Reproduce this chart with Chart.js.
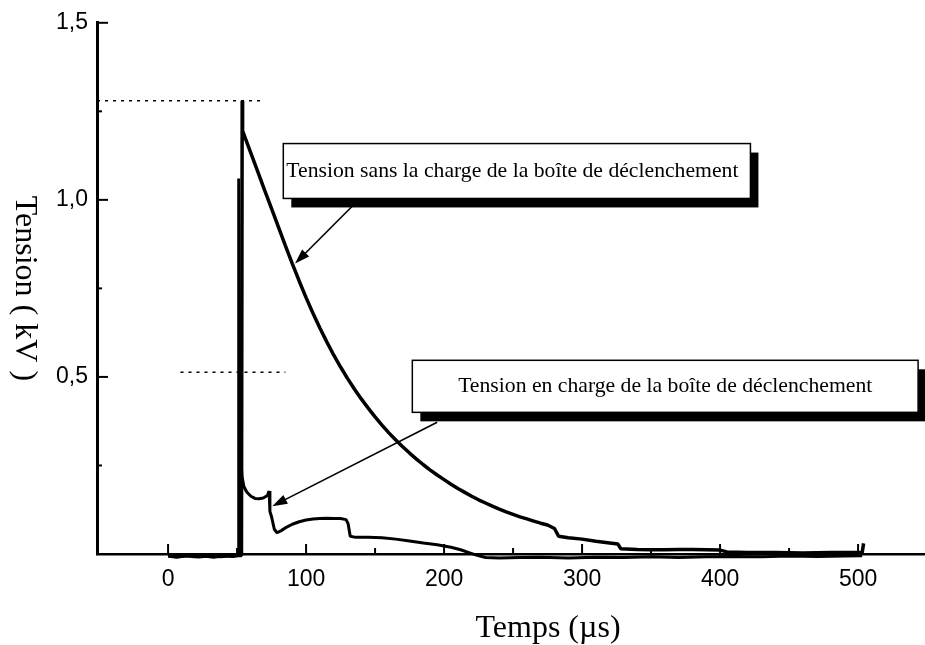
<!DOCTYPE html>
<html>
<head>
<meta charset="utf-8">
<script src="https://cdn.jsdelivr.net/npm/chart.js@4"></script>
<style>
  html, body { margin: 0; padding: 0; background: #fff; }
  #tensionChart { display: block; }
</style>
</head>
<body>
<canvas id="tensionChart" width="925" height="645"></canvas>
<script>
const tempsSansCharge = [0, 8, 15, 22, 30, 38, 46, 53.2, 53.7, 54, 60, 65, 70, 75, 80, 85, 90, 95, 100,
  105, 110, 115, 120, 125, 130, 135, 140, 145, 150, 155, 160, 165, 170, 175, 180, 185, 190, 195, 200,
  205, 210, 215, 220, 225, 230, 235, 240, 245, 250, 255, 260, 265, 270, 275, 280, 283, 290, 300, 310,
  320, 326, 328, 340, 350, 360, 370, 380, 390, 400, 405, 420, 440, 460, 480, 503, 504];
const tensionSansCharge = [-0.005, -0.007, -0.004, -0.008, -0.005, -0.007, -0.004, -0.004, 1.28, 1.195, 1.132, 1.08, 1.027, 0.975, 0.923, 0.871, 0.82, 0.771, 0.724,
  0.68, 0.638, 0.599, 0.562, 0.528, 0.496, 0.466, 0.438, 0.412, 0.387, 0.364, 0.342, 0.322, 0.303, 0.285, 0.268, 0.252, 0.237, 0.223, 0.21,
  0.197, 0.185, 0.174, 0.163, 0.153, 0.144, 0.135, 0.127, 0.119, 0.112, 0.105, 0.099, 0.093, 0.087, 0.082, 0.072, 0.05, 0.046, 0.042, 0.036,
  0.031, 0.028, 0.015, 0.013, 0.012, 0.012, 0.013, 0.013, 0.012, 0.011, 0.006, 0.004, 0.004, 0.003, 0.004, 0.004, 0.03];

const tempsEnCharge = [0, 6, 12, 19, 26, 33, 40, 47, 50.8, 51.2, 51.8, 52.5, 53.5, 55, 57, 60, 63, 66, 69, 72,
  73.2, 73.8, 75, 77, 79, 82, 86, 90, 95, 100, 105, 110, 115, 120, 125, 129, 130.5, 132, 136, 145,
  155, 165, 175, 185, 195, 205, 212, 218, 224, 230, 240, 255, 270, 290, 310, 330, 350, 370, 390, 410,
  430, 450, 470, 490, 503];
const tensionEnCharge = [-0.006, -0.009, -0.005, -0.008, -0.006, -0.009, -0.005, -0.007, -0.004, 1.06, 0.5, 0.3, 0.22, 0.19, 0.175, 0.163, 0.157, 0.156, 0.158, 0.165,
  0.178, 0.12, 0.105, 0.07, 0.06, 0.066, 0.076, 0.084, 0.091, 0.096, 0.099, 0.1, 0.101, 0.1, 0.1, 0.097, 0.085, 0.05, 0.047, 0.047,
  0.046, 0.042, 0.037, 0.031, 0.026, 0.019, 0.012, 0.004, -0.004, -0.01, -0.011, -0.01, -0.009, -0.011, -0.009, -0.01, -0.008, -0.01, -0.008, -0.007,
  -0.008, -0.006, -0.007, -0.006, -0.005];

// niveaux repères en pointillés
const creteTemps = [-51.5, 69];
const creteTension = [1.28, 1.28];
const moitieTemps = [9, 85];
const moitieTension = [0.513, 0.513];

const xTicks = [0, 100, 200, 300, 400, 500];
const xMinorTicks = [50, 150, 250, 350, 450];
const yTicks = [0.5, 1.0, 1.5];
const yMinorTicks = [0.25, 0.75, 1.25];

const toPoints = (xs, ys) => xs.map((x, i) => ({ x: x, y: ys[i] }));

// bulles de légende (coordonnées en unités des axes)
const bulles = [
  { text: 'Tension sans la charge de la boîte de déclenchement', box: [83.5, 1.159, 422, 1.004], align: 'left', arrow: [134, 0.984, 92, 0.82] },
  { text: 'Tension en charge de la boîte de déclenchement', box: [177, 0.547, 543.5, 0.4], align: 'center', arrow: [195, 0.372, 75.5, 0.135] }
];

const decorPlugin = {
  id: 'decor',
  afterDraw(chart) {
    const ctx = chart.ctx;
    const xs = chart.scales.x;
    const ys = chart.scales.y;
    const area = chart.chartArea;
    ctx.save();
    ctx.strokeStyle = '#000';
    ctx.fillStyle = '#000';

    // graduations vers l'intérieur
    ctx.lineWidth = 2;
    const tickY = (v, len) => {
      const p = ys.getPixelForValue(v);
      ctx.beginPath(); ctx.moveTo(area.left, p); ctx.lineTo(area.left + len, p); ctx.stroke();
    };
    const tickX = (v, len) => {
      const p = xs.getPixelForValue(v);
      ctx.beginPath(); ctx.moveTo(p, area.bottom); ctx.lineTo(p, area.bottom - len); ctx.stroke();
    };
    yTicks.forEach(v => tickY(v, 11));
    yMinorTicks.forEach(v => tickY(v, 5));
    xTicks.forEach(v => tickX(v, 10));
    xMinorTicks.forEach(v => tickX(v, 6));

    // bulles + flèches
    bulles.forEach(b => {
      const x0 = xs.getPixelForValue(b.box[0]);
      const y0 = ys.getPixelForValue(b.box[1]);
      const x1 = xs.getPixelForValue(b.box[2]);
      const y1 = ys.getPixelForValue(b.box[3]);
      ctx.fillStyle = '#000';
      ctx.fillRect(x0 + 8, y0 + 9, x1 - x0, y1 - y0);
      ctx.fillStyle = '#fff';
      ctx.fillRect(x0, y0, x1 - x0, y1 - y0);
      ctx.lineWidth = 1.5;
      ctx.strokeRect(x0, y0, x1 - x0, y1 - y0);
      ctx.fillStyle = '#000';
      ctx.font = '21.7px "Liberation Serif", "Times New Roman", serif';
      ctx.textBaseline = 'middle';
      if (b.align === 'left') {
        ctx.textAlign = 'left';
        ctx.fillText(b.text, x0 + 3, (y0 + y1) / 2);
      } else {
        ctx.textAlign = 'center';
        ctx.fillText(b.text, (x0 + x1) / 2, (y0 + y1) / 2);
      }

      const ax0 = xs.getPixelForValue(b.arrow[0]);
      const ay0 = ys.getPixelForValue(b.arrow[1]);
      const ax1 = xs.getPixelForValue(b.arrow[2]);
      const ay1 = ys.getPixelForValue(b.arrow[3]);
      const ang = Math.atan2(ay1 - ay0, ax1 - ax0);
      ctx.lineWidth = 1.6;
      ctx.beginPath(); ctx.moveTo(ax0, ay0); ctx.lineTo(ax1 - 10 * Math.cos(ang), ay1 - 10 * Math.sin(ang)); ctx.stroke();
      ctx.beginPath();
      ctx.moveTo(ax1, ay1);
      ctx.lineTo(ax1 - 15 * Math.cos(ang) + 5 * Math.sin(ang), ay1 - 15 * Math.sin(ang) - 5 * Math.cos(ang));
      ctx.lineTo(ax1 - 15 * Math.cos(ang) - 5 * Math.sin(ang), ay1 - 15 * Math.sin(ang) + 5 * Math.cos(ang));
      ctx.closePath();
      ctx.fill();
    });

    // titres des axes
    ctx.fillStyle = '#000';
    ctx.font = '32px "Liberation Serif", "Times New Roman", serif';
    ctx.textAlign = 'center';
    ctx.textBaseline = 'alphabetic';
    ctx.fillText('Temps (µs)', 548, 637);
    ctx.translate(16, (area.top + area.bottom) / 2);
    ctx.rotate(Math.PI / 2);
    ctx.fillText('Tension ( kV )', 0, 0);
    ctx.restore();
  }
};

const traceClip = { left: 0, top: 0, right: 0, bottom: 10 };

const tensionChart = new Chart(document.getElementById('tensionChart'), {
  type: 'line',
  data: {
    datasets: [{
      label: 'Tension sans la charge',
      data: toPoints(tempsSansCharge, tensionSansCharge),
      borderColor: '#000',
      borderWidth: 3.5,
      borderJoinStyle: 'bevel',
      pointRadius: 0,
      tension: 0,
      clip: traceClip,
    }, {
      label: 'Tension en charge',
      data: toPoints(tempsEnCharge, tensionEnCharge),
      borderColor: '#000',
      borderWidth: 3,
      borderJoinStyle: 'bevel',
      pointRadius: 0,
      tension: 0,
      clip: traceClip,
    }, {
      label: 'crête',
      data: toPoints(creteTemps, creteTension),
      borderColor: '#000',
      borderWidth: 1.5,
      borderDash: [3, 5],
      pointRadius: 0,
    }, {
      label: 'moitié',
      data: toPoints(moitieTemps, moitieTension),
      borderColor: '#000',
      borderWidth: 1.5,
      borderDash: [3, 5],
      pointRadius: 0,
    }]
  },
  options: {
    responsive: false,
    animation: false,
    layout: {
      padding: { top: 22, right: 0, left: 0, bottom: 0 }
    },
    scales: {
      x: {
        type: 'linear',
        min: -51.5,
        max: 548.5,
        afterFit: (scale) => { scale.height = 91; },
        afterBuildTicks: (scale) => { scale.ticks = xTicks.map(v => ({ value: v })); },
        grid: { display: false, drawTicks: false },
        border: { display: true, color: '#000', width: 2.5 },
        ticks: {
          padding: 12,
          color: '#000',
          maxRotation: 0,
          font: { family: '"Liberation Sans", Arial, sans-serif', size: 23 },
          callback: (value) => String(value),
        }
      },
      y: {
        type: 'linear',
        min: 0,
        max: 1.5,
        afterFit: (scale) => { scale.width = 97; },
        afterBuildTicks: (scale) => { scale.ticks = yTicks.map(v => ({ value: v })); },
        grid: { display: false, drawTicks: false },
        border: { display: true, color: '#000', width: 3 },
        ticks: {
          padding: 9,
          color: '#000',
          font: { family: '"Liberation Sans", Arial, sans-serif', size: 23 },
          callback: (value) => value.toFixed(1).replace('.', ','),
        }
      }
    },
    plugins: {
      legend: { display: false },
      tooltip: { enabled: false },
    }
  },
  plugins: [decorPlugin]
});
</script>
</body>
</html>
